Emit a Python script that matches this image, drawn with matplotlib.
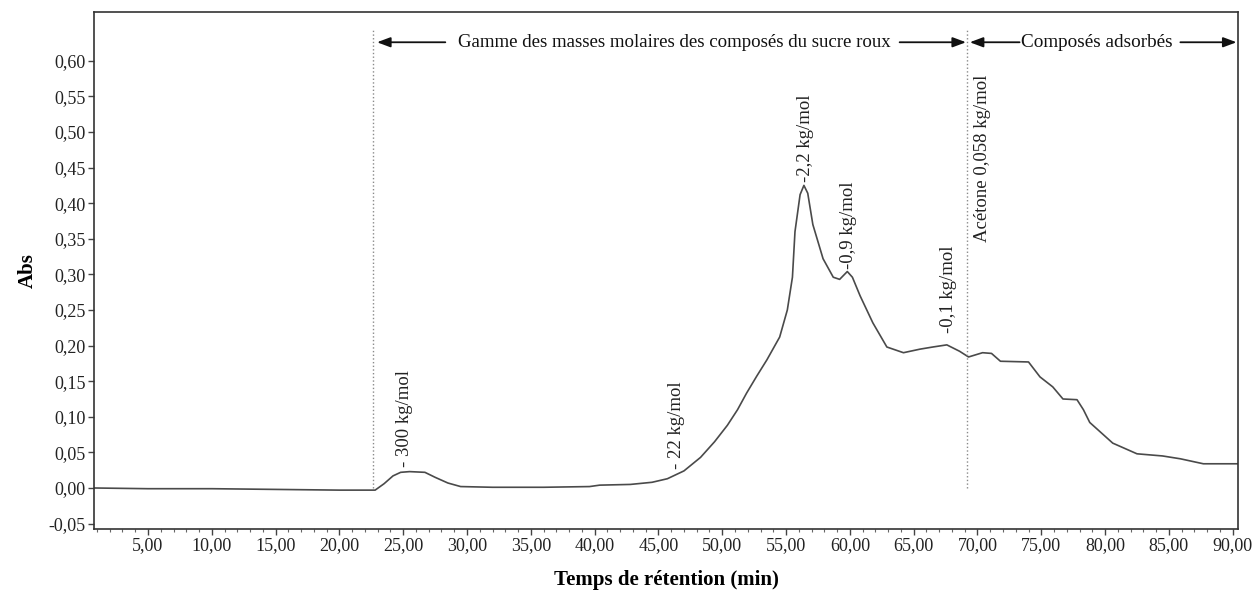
import matplotlib
matplotlib.use("Agg")
import matplotlib.pyplot as plt
from matplotlib.ticker import MultipleLocator, FuncFormatter

plt.rcParams['font.family'] = ['Liberation Serif', 'DejaVu Serif']

# Retention time (min) and absorbance
time = [0.8, 5, 10, 15, 20, 22.8, 23.5, 24.2, 24.8, 25.5, 26.7, 27.5, 28.5, 29.5,
        32, 36, 39.6, 40.4, 42.8, 44.5, 45.7, 47, 48.3, 49.4, 50.4, 51.2, 51.9,
        52.7, 53.5, 54.5, 55.1, 55.5, 55.7, 56.1, 56.4, 56.7, 57.1, 57.9, 58.7,
        59.2, 59.8, 60.2, 60.8, 61.8, 62.9, 64.2, 65.5, 66.5, 67.6, 68.6, 69.3,
        70.4, 71.1, 71.8, 74.0, 74.9, 75.9, 76.7, 77.8, 78.3, 78.8, 80.6, 82.5,
        84.5, 85.9, 87.7, 90.4]
absorb = [0.000, -0.001, -0.001, -0.002, -0.003, -0.003, 0.006, 0.017, 0.022, 0.023,
          0.022, 0.015, 0.007, 0.002, 0.001, 0.001, 0.002, 0.004, 0.005, 0.008,
          0.013, 0.024, 0.043, 0.065, 0.088, 0.110, 0.133, 0.157, 0.180, 0.212,
          0.250, 0.296, 0.360, 0.412, 0.425, 0.414, 0.370, 0.322, 0.296, 0.293,
          0.304, 0.296, 0.270, 0.232, 0.198, 0.190, 0.195, 0.198, 0.201, 0.192,
          0.184, 0.190, 0.189, 0.178, 0.177, 0.156, 0.142, 0.125, 0.124, 0.110,
          0.092, 0.063, 0.048, 0.045, 0.041, 0.034, 0.034]

# Peak annotations: (label, time, bottom y of text)
peak_labels = ["- 300 kg/mol", "- 22 kg/mol", "-2,2 kg/mol", "-0,9 kg/mol",
               "-0,1 kg/mol", "Acétone 0,058 kg/mol"]
peak_times = [25.1, 46.4, 56.5, 59.9, 67.7, 70.4]
peak_ybase = [0.030, 0.027, 0.430, 0.308, 0.218, 0.345]

# Range boundaries
bounds = [22.6, 69.2]
range_labels = ["Gamme des masses molaires des composés du sucre roux", "Composés adsorbés"]

x_ticks = [5, 10, 15, 20, 25, 30, 35, 40, 45, 50, 55, 60, 65, 70, 75, 80, 85, 90]
y_ticks = [-0.05, 0.0, 0.05, 0.10, 0.15, 0.20, 0.25, 0.30, 0.35, 0.40, 0.45, 0.50, 0.55, 0.60]

fig = plt.figure(figsize=(12.55, 5.97), dpi=100)
ax = fig.add_axes([0.0749, 0.1139, 0.9116, 0.866])

ax.plot(time, absorb, color='#4a4a4a', lw=1.2)

for b in bounds:
    ax.plot([b, b], [0.0, 0.643], color='#8a8a8a', lw=1.0, ls=':')

ax.set_xlim(0.77, 90.42)
ax.set_ylim(-0.0576, 0.6685)
ax.set_xticks(x_ticks)
ax.set_yticks(y_ticks)
ax.xaxis.set_minor_locator(MultipleLocator(1))
fmt = FuncFormatter(lambda v, p: f"{v:.2f}".replace('.', ','))
ax.xaxis.set_major_formatter(fmt)
ax.yaxis.set_major_formatter(fmt)
ax.tick_params(axis='both', which='major', labelsize=13, length=4, width=1, color='#444',
               labelcolor='#222', pad=2)
ax.tick_params(axis='x', which='minor', length=2.5, width=0.8, color='#666')
for s in ax.spines.values():
    s.set_color('#333')
    s.set_linewidth(1.2)

ax.set_xlabel("Temps de rétention (min)", fontsize=15, fontweight='bold', labelpad=11)
ax.set_ylabel("Abs", fontsize=15, fontweight='bold', labelpad=8)

for lab, t, yb in zip(peak_labels, peak_times, peak_ybase):
    ax.text(t, yb, lab, rotation=90, ha='center', va='bottom', fontsize=13.5, color='#222')

ya = 0.626
arrow_kw = dict(arrowstyle='-|>,head_length=0.8,head_width=0.3', color='#111', lw=1.3,
                shrinkA=0, shrinkB=0)
ax.annotate("", xy=(bounds[0] + 0.35, ya), xytext=(28.3, ya), arrowprops=arrow_kw)
ax.text(29.3, ya, range_labels[0], ha='left', va='center', fontsize=13.6, color='#111')
ax.annotate("", xy=(bounds[1] - 0.1, ya), xytext=(63.9, ya), arrowprops=arrow_kw)
ax.annotate("", xy=(bounds[1] + 0.2, ya), xytext=(73.3, ya), arrowprops=arrow_kw)
ax.text(73.4, ya, range_labels[1], ha='left', va='center', fontsize=13.8, color='#111')
ax.annotate("", xy=(90.3, ya), xytext=(85.9, ya), arrowprops=arrow_kw)

fig.savefig("out.png", dpi=100)
